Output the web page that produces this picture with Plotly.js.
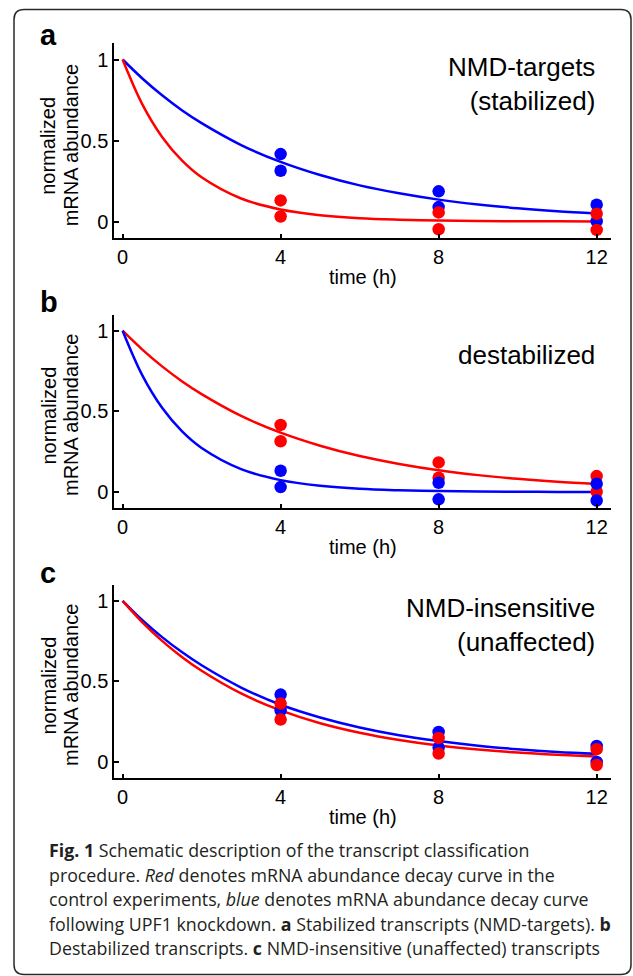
<!DOCTYPE html>
<html><head><meta charset="utf-8">
<script src="https://cdn.plot.ly/plotly-3.0.1.min.js"></script>
<style>html,body{margin:0;padding:0;background:#fff}#chart{width:633px;height:976px}</style>
</head><body><div id="chart"></div>
<script>
// ---- data ----
const curveTimes = [0, 0.5, 1, 1.5, 2, 3, 4, 5, 6, 7, 8, 9, 10, 11, 12];
const sampleTimes = [4, 4, 8, 8, 12, 12];
const tickTimes = [0, 4, 8, 12];
const abundanceTicks = [0, 0.5, 1];
const abundanceTickText = ['0', '0.5', '1'];

// panel a: NMD-targets (stabilized)
const aControlCurve   = [1, 0.723, 0.522, 0.377, 0.273, 0.142, 0.074, 0.039, 0.020, 0.011, 0.006, 0.003, 0.002, 0.001, 0.000];
const aKnockdownCurve = [1, 0.883, 0.779, 0.687, 0.607, 0.472, 0.368, 0.287, 0.223, 0.174, 0.135, 0.105, 0.082, 0.064, 0.050];
const aControlPoints   = [0.130, 0.031, 0.056, -0.048, 0.048, -0.052];
const aKnockdownPoints = [0.416, 0.313, 0.186, 0.089, 0.104, 0.002];

// panel b: destabilized
const bControlCurve   = [1, 0.883, 0.779, 0.687, 0.607, 0.472, 0.368, 0.287, 0.223, 0.174, 0.135, 0.105, 0.082, 0.064, 0.050];
const bKnockdownCurve = [1, 0.723, 0.522, 0.377, 0.273, 0.142, 0.074, 0.039, 0.020, 0.011, 0.006, 0.003, 0.002, 0.001, 0.000];
const bControlPoints   = [0.416, 0.315, 0.184, 0.089, 0.099, 0.002];
const bKnockdownPoints = [0.132, 0.031, 0.058, -0.045, 0.052, -0.052];

// panel c: NMD-insensitive (unaffected)
const cControlCurve   = [1, 0.867, 0.752, 0.652, 0.566, 0.425, 0.320, 0.240, 0.181, 0.136, 0.102, 0.077, 0.058, 0.044, 0.033];
const cKnockdownCurve = [1, 0.880, 0.775, 0.682, 0.600, 0.462, 0.355, 0.276, 0.214, 0.166, 0.130, 0.101, 0.079, 0.062, 0.050];
const cControlPoints   = [0.362, 0.263, 0.149, 0.052, 0.079, -0.019];
const cKnockdownPoints = [0.418, 0.321, 0.186, 0.089, 0.099, 0.000];

const panelLetters = ['a', 'b', 'c'];
const panelLabels = ['NMD-targets<br>(stabilized)', 'destabilized', 'NMD-insensitive<br>(unaffected)'];
const yTitleLines = ['normalized', 'mRNA abundance'];
const xTitle = 'time (h)';
const captionLines = [
  '<b>Fig. 1</b> Schematic description of the transcript classification',
  'procedure. <i>Red</i> denotes mRNA abundance decay curve in the',
  'control experiments, <i>blue</i> denotes mRNA abundance decay curve',
  'following UPF1 knockdown. <b>a</b> Stabilized transcripts (NMD-targets). <b>b</b>',
  'Destabilized transcripts. <b>c</b> NMD-insensitive (unaffected) transcripts'
];

// ---- styling ----
const W = 633, H = 976;
const RED = '#ff0000', BLUE = '#0000ff';
const FONT = '"Liberation Sans", Arial, Helvetica, sans-serif';
const CAPFONT = '"Open Sans", "Noto Sans", sans-serif';
const px = x => x / W;
const py = y => 1 - y / H;

const panelTop = [43.3, 314.6, 584.8];   // px
const panelBot = [237.7, 508.2, 778.0];  // px

function lineTrace(vals, color, ax) {
  return {x: curveTimes, y: vals, type: 'scatter', mode: 'lines', line: {color, width: 2.5, shape: 'spline', smoothing: 1},
          xaxis: ax.x, yaxis: ax.y, hoverinfo: 'skip', showlegend: false};
}
function dotTrace(vals, color, ax) {
  return {x: sampleTimes, y: vals, type: 'scatter', mode: 'markers', marker: {color, size: 12.5, line: {width: 0}},
          xaxis: ax.x, yaxis: ax.y, showlegend: false};
}
const axA = {x: 'x', y: 'y'}, axB = {x: 'x2', y: 'y2'}, axC = {x: 'x3', y: 'y3'};

const data = [
  lineTrace(aKnockdownCurve, BLUE, axA), lineTrace(aControlCurve, RED, axA),
  dotTrace(aKnockdownPoints, BLUE, axA), dotTrace(aControlPoints, RED, axA),
  lineTrace(bControlCurve, RED, axB), lineTrace(bKnockdownCurve, BLUE, axB),
  dotTrace(bControlPoints, RED, axB), dotTrace(bKnockdownPoints, BLUE, axB),
  lineTrace(cKnockdownCurve, BLUE, axC), lineTrace(cControlCurve, RED, axC),
  dotTrace(cKnockdownPoints, BLUE, axC), dotTrace(cControlPoints, RED, axC)
];

function xAxis(anchor) {
  return {domain: [px(114.3), px(611.3)], range: [-0.21, 12.37], anchor,
    tickmode: 'array', tickvals: tickTimes, ticktext: tickTimes.map(String),
    ticks: 'inside', ticklen: 4, tickwidth: 2, tickcolor: '#000',
    showline: true, linewidth: 2, linecolor: '#000', showgrid: false, zeroline: false,
    tickfont: {family: FONT, size: 20, color: '#000'},
    title: {text: xTitle, font: {family: FONT, size: 20, color: '#000'}, standoff: 3},
    fixedrange: true};
}
function yAxis(i, anchor) {
  return {domain: [py(panelBot[i]), py(panelTop[i])], range: [-0.1, 1.1], anchor,
    tickmode: 'array', tickvals: abundanceTicks, ticktext: abundanceTickText,
    ticks: 'inside', ticklen: 5, tickwidth: 2, tickcolor: '#000',
    showline: true, linewidth: 2, linecolor: '#000', showgrid: false, zeroline: false,
    tickfont: {family: FONT, size: 20, color: '#000'},
    fixedrange: true};
}

const annotations = [];
const letterY = [35, 302, 573];
const labelY = [84.5, 355.5, 624.5];
const yTitleY = [145.8, 415.5, 685.5];
const xrefs = ['x', 'x2', 'x3'];
for (let i = 0; i < 3; i++) {
  annotations.push({xref: 'paper', yref: 'paper', x: px(38), y: py(letterY[i]), xanchor: 'left', yanchor: 'middle',
    text: '<b>' + panelLetters[i] + '</b>', showarrow: false, font: {family: FONT, size: 29, color: '#000'}});
  annotations.push({xref: xrefs[i], yref: 'paper', x: 12, y: py(labelY[i]), xanchor: 'right', yanchor: 'middle', align: 'right',
    text: panelLabels[i], showarrow: false, font: {family: FONT, size: 26, color: '#000'}});
  // y-axis title, two rotated lines
  annotations.push({xref: 'paper', yref: 'paper', x: px(48), y: py(yTitleY[i]), xanchor: 'center', yanchor: 'middle',
    textangle: -90, text: yTitleLines[0], showarrow: false, font: {family: FONT, size: 20, color: '#000'}});
  annotations.push({xref: 'paper', yref: 'paper', x: px(70.5), y: py(yTitleY[i]), xanchor: 'center', yanchor: 'middle',
    textangle: -90, text: yTitleLines[1], showarrow: false, font: {family: FONT, size: 20, color: '#000'}});
}
const captionY = [850, 874.5, 899, 923.5, 948];
captionLines.forEach((t, k) => {
  annotations.push({xref: 'paper', yref: 'paper', x: px(47), y: py(captionY[k]), xanchor: 'left', yanchor: 'middle', align: 'left',
    showarrow: false, font: {family: CAPFONT, size: 17.8, color: '#231f20'}, text: t});
});

// rounded frame
const L = 14, R = 631, T = 9.5, B = 974.5, r = 10;
const fp = (x, y) => px(x) + ',' + py(y);
const framePath = 'M' + fp(L + r, T) + ' L' + fp(R - r, T) + ' Q' + fp(R, T) + ' ' + fp(R, T + r) +
  ' L' + fp(R, B - r) + ' Q' + fp(R, B) + ' ' + fp(R - r, B) + ' L' + fp(L + r, B) +
  ' Q' + fp(L, B) + ' ' + fp(L, B - r) + ' L' + fp(L, T + r) + ' Q' + fp(L, T) + ' ' + fp(L + r, T) + ' Z';

const layout = {
  width: W, height: H, margin: {l: 0, r: 0, t: 0, b: 0}, paper_bgcolor: '#fff', plot_bgcolor: '#fff',
  showlegend: false,
  xaxis: xAxis('y'), yaxis: yAxis(0, 'x'),
  xaxis2: xAxis('y2'), yaxis2: yAxis(1, 'x2'),
  xaxis3: xAxis('y3'), yaxis3: yAxis(2, 'x3'),
  annotations,
  shapes: [{type: 'path', xref: 'paper', yref: 'paper', path: framePath, line: {color: '#2a2a2a', width: 1.5}, fillcolor: 'rgba(0,0,0,0)'}]
};

Plotly.newPlot('chart', data, layout, {displayModeBar: false, staticPlot: true});
</script></body></html>
